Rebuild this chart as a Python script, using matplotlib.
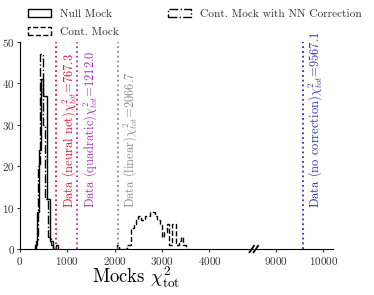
import matplotlib
matplotlib.use("Agg")
import numpy as np
from matplotlib import pyplot as plt
from matplotlib.patches import Patch

plt.rcParams["font.family"] = "serif"
plt.rcParams["font.serif"] = ["cmr10", "DejaVu Serif"]
plt.rcParams["mathtext.fontset"] = "cm"
plt.rcParams["axes.formatter.use_mathtext"] = True

# histogram outlines (bin edges, counts)
null_edges = [310, 350, 400, 440, 495, 565, 630, 690, 760, 800]
null_counts = [1, 9, 24, 41, 37, 12, 2, 0, 1]

nn_edges = [330, 375, 425, 495, 530, 600, 660, 700]
nn_counts = [2, 20, 47, 30, 12, 3, 1]

cont_edges = list(range(2050, 3551, 50))
cont_counts = [1, 0, 0, 0, 1, 1, 5, 6, 7, 8, 7, 7, 8, 8, 9,
               9, 8, 7, 6, 3, 4, 6, 1, 6, 6, 1, 2, 3, 1, 0]

data_chi2 = [767.3, 1212.0, 2066.7, 9567.1]
data_names = ["neural net", "quadratic", "linear", "no correction"]
data_colors = ["crimson", "#a534b8", "#8c8c8c", "#2f2fb0"]

fig = plt.figure(figsize=(3.74, 2.95), dpi=100)
bottom, height = 1 - 249 / 295, 207 / 295
ax1 = fig.add_axes([20 / 374, bottom, 233 / 374, height])
ax2 = fig.add_axes([256 / 374, bottom, 77 / 374, height])

for ax in (ax1, ax2):
    ax.stairs(null_counts, null_edges, color="black", lw=1.0)
    ax.stairs(cont_counts, cont_edges, color="black", lw=1.0, ls="--")
    ax.stairs(nn_counts, nn_edges, color="black", lw=1.0, ls="-.")
    for x, name, c in zip(data_chi2, data_names, data_colors):
        ax.axvline(x, color=c, ls=":", lw=1.3)
        ax.annotate(
            f"Data ({name})" + r"$\chi^2_{tot}$=" + f"{x:.1f}",
            xy=(x, 10), xytext=(2.5, 0), textcoords="offset points",
            rotation=90, ha="left", va="bottom", color=c, fontsize=9,
            annotation_clip=True,
        )
    ax.set_ylim(0, 50)
    ax.spines["top"].set_visible(False)
    ax.spines["right"].set_visible(False)
    ax.tick_params(labelsize=8, colors="#333333", length=2.5, pad=1.5)

ax1.set_xlim(0, 4920)
ax2.set_xlim(8590, 10200)
ax1.set_xticks([0, 1000, 2000, 3000, 4000])
ax2.set_xticks([9000, 10000])
ax1.set_yticks([0, 10, 20, 30, 40, 50])
ax1.tick_params(axis="y", pad=1)
ax2.spines["left"].set_visible(False)
ax2.set_yticks([])
ax1.set_xlabel(r"Mocks $\chi^2_{\rm tot}$", fontsize=13.5, labelpad=-2)

# break marks
d = 0.012
for dx in (0.0, 0.011):
    fig.add_artist(plt.Line2D([254 / 374 + dx - d, 254 / 374 + dx],
                              [bottom - 0.011, bottom + 0.011],
                              color="black", lw=1.3))

handles = [
    Patch(facecolor="none", edgecolor="black", lw=1.0, ls="-"),
    Patch(facecolor="none", edgecolor="black", lw=1.0, ls="--"),
    Patch(facecolor="none", edgecolor="black", lw=1.0, ls="-."),
]
labels = ["Null Mock", "Cont. Mock", "Cont. Mock with NN Correction"]
fig.legend(handles, labels, ncol=2, loc="upper left",
           bbox_to_anchor=(0.048, 1.003), frameon=False, fontsize=8.2,
           handlelength=2.0, columnspacing=4.3, labelspacing=0.68,
           handletextpad=0.8, labelcolor="#333333")

fig.savefig("out.png", dpi=100)
